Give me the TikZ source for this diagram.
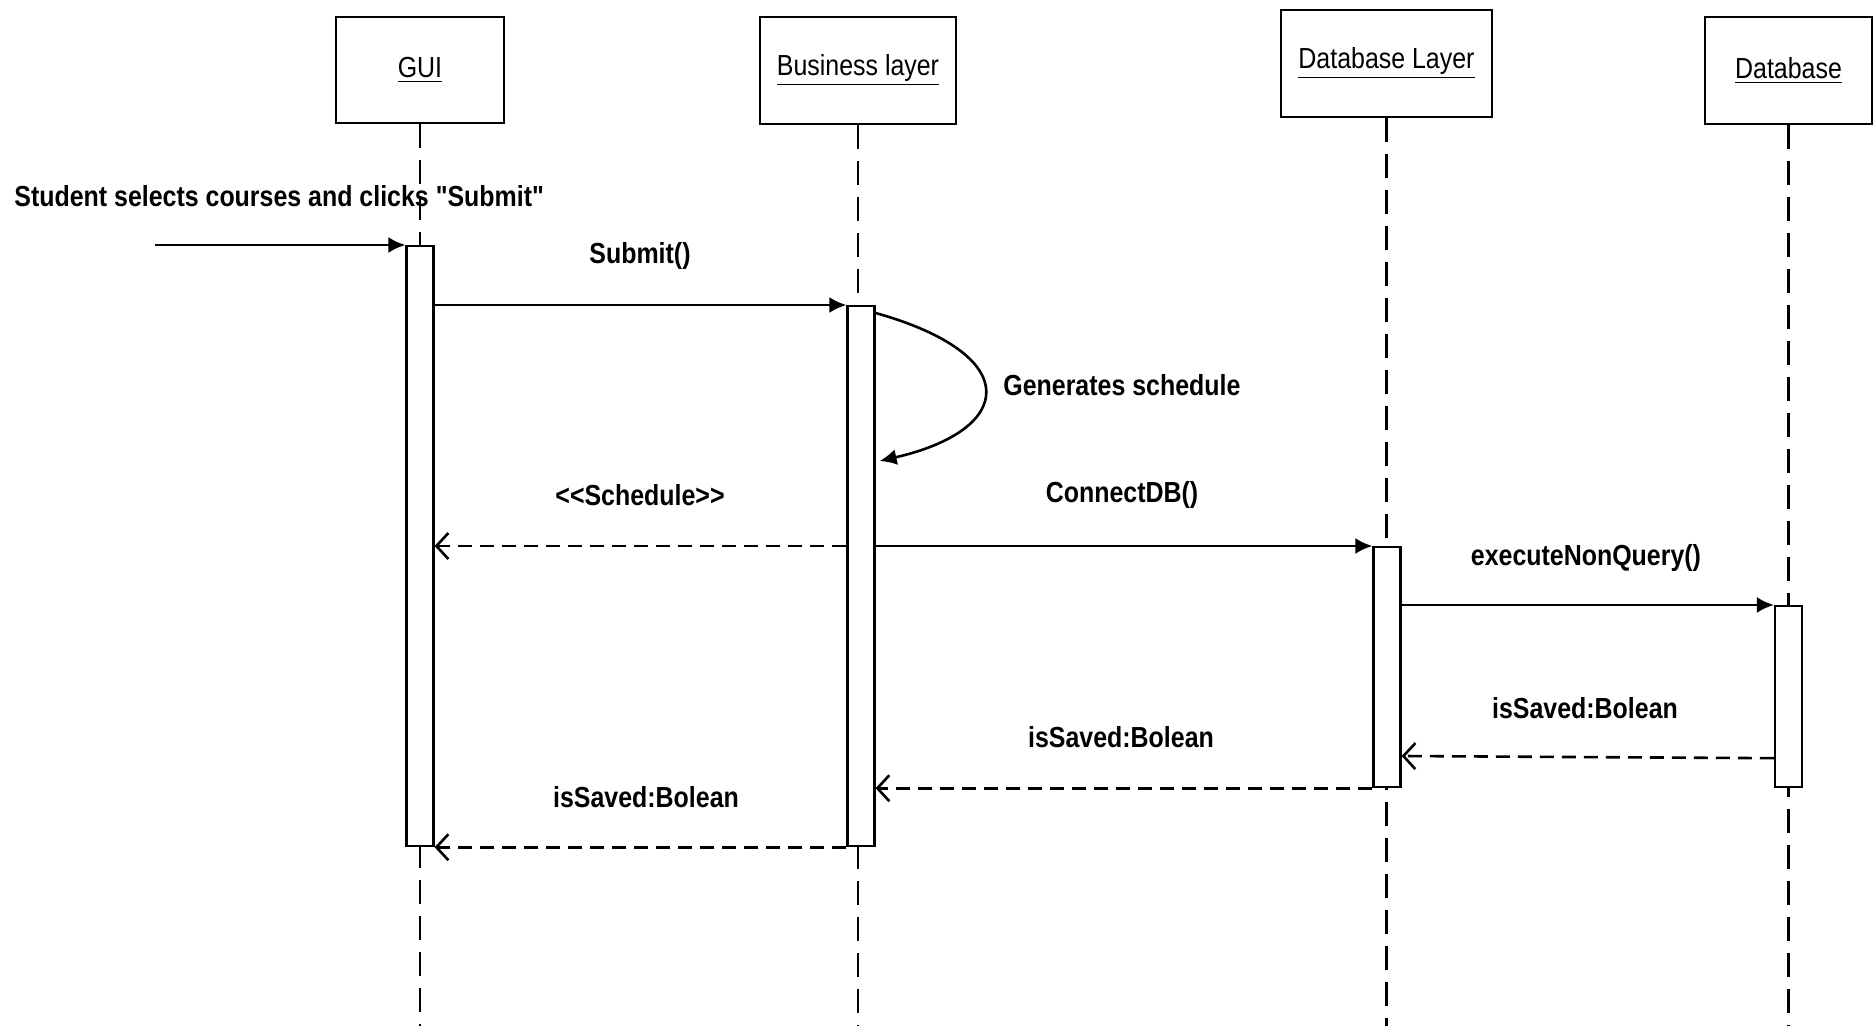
\documentclass[tikz,border=0pt]{standalone}
\usepackage{fontspec}
\setmainfont[FakeStretch=0.86,Ligatures=TeXOff]{Liberation Sans}
\usetikzlibrary{arrows.meta}
\begin{document}
\begin{tikzpicture}[x=0.5pt,y=-0.5pt,
  obj/.style={draw,line width=1.4pt,fill=white,inner sep=0pt,font=\fontsize{14.5}{17}\selectfont},
  actbar/.style={draw,line width=1.1pt,fill=white,minimum width=13.5pt,inner sep=0pt,anchor=north},
  lifeline/.style={line width=1.1pt,dash pattern=on 12pt off 6pt},
  callmsg/.style={line width=1.3pt,-{Latex[length=8.5pt,width=8pt]}},
  retmsg/.style={line width=1.3pt,dash pattern=on 7pt off 4pt,-{Straight Barb[length=6pt,width=13pt]}},
  lbl/.style={inner sep=0pt,font=\bfseries\fontsize{14.5}{17}\selectfont}
]
\useasboundingbox (0,0) rectangle (1876,1026);
% objects
\node[obj,minimum width=84pt,minimum height=53pt] (gui) at (420,70) {\underline{GUI}};
\node[obj,minimum width=98pt,minimum height=53.5pt] (bus) at (858,70.5) {\underline{Business layer}};
\node[obj,minimum width=105.5pt,minimum height=53.5pt] (dbl) at (1386.5,63.5) {\underline{Database Layer}};
\node[obj,minimum width=83.5pt,minimum height=53.5pt] (db) at (1788.5,70.5) {\underline{Database}};
% lifelines
\draw[lifeline] (gui.south) -- (gui.south |- 0,1026);
\draw[lifeline] (bus.south) -- (bus.south |- 0,1026);
\draw[lifeline] (dbl.south) -- (dbl.south |- 0,1026);
\draw[lifeline] (db.south) -- (db.south |- 0,1026);
% activation bars
\node[actbar,minimum height=300pt] (gbar) at (420,245) {};
\node[actbar,minimum height=270pt] (bbar) at (861,305) {};
\node[actbar,minimum height=120pt] (lbar) at (1387,546) {};
\node[actbar,minimum height=90.5pt] (dbar) at (1788.5,605) {};
% messages
\coordinate (actor) at (155,245);
\draw[callmsg] (actor) -- (gbar.north west);
\draw[callmsg] (gbar.east |- bbar.north) -- (bbar.north west);
\draw[callmsg] ([yshift=-4pt]bbar.north east) .. controls (1025,355) and (1015,430) .. ([xshift=2pt]bbar.east |- 0,461);
\draw[retmsg] (bbar.west |- lbar.north) -- (gbar.east |- lbar.north);
\draw[callmsg] (bbar.east |- lbar.north) -- (lbar.north west);
\draw[callmsg] (lbar.east |- dbar.north) -- (dbar.north west);
\draw[retmsg] ([yshift=15pt]dbar.south west) -- (lbar.east |- 0,756);
\draw[retmsg] (lbar.south west) -- (bbar.east |- lbar.south);
\draw[retmsg] (bbar.south west) -- (gbar.south east);
% labels
\node[lbl,anchor=west] (l0) at (14,196) {Student selects courses and clicks "Submit"};
\node[lbl] (l1) at (640,256) {Submit()};
\node[lbl,anchor=west] (l2) at (1003,385) {Generates schedule};
\node[lbl] (l3) at (640,495) {<<Schedule>>};
\node[lbl] (l4) at (1122,495) {ConnectDB()};
\node[lbl] (l5) at (1586,558) {executeNonQuery()};
\node[lbl] (l6) at (1585,708) {isSaved:Bolean};
\node[lbl] (l7) at (1121,737) {isSaved:Bolean};
\node[lbl] (l8) at (646,797) {isSaved:Bolean};
\end{tikzpicture}
\end{document}
